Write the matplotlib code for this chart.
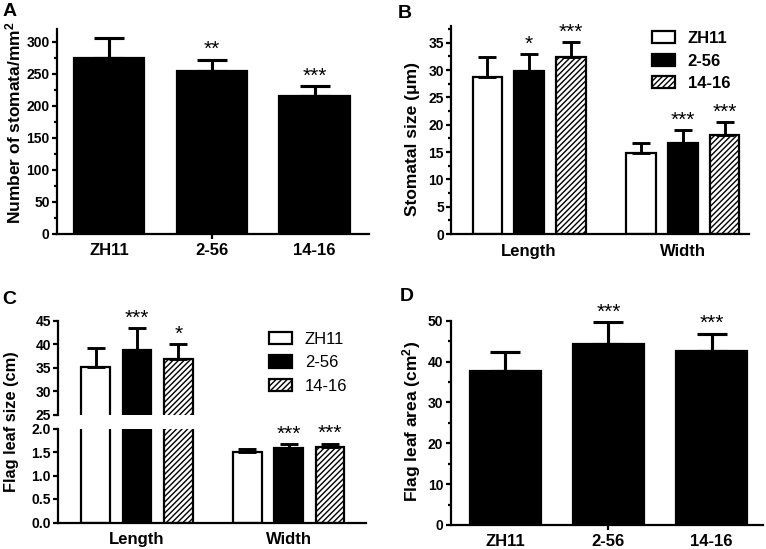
import numpy as np
import matplotlib
matplotlib.use('Agg')
import matplotlib.pyplot as plt
from matplotlib.patches import Patch
from matplotlib.ticker import MultipleLocator, FormatStrFormatter

# ==========================================
# DATA
# ==========================================
lines = ['ZH11', '2-56', '14-16']
groups = ['Length', 'Width']

# A - stomatal density
stomata_mean = [274, 254, 214.5]
stomata_sd = [31, 18, 15.5]
stomata_sig = ['', '**', '***']

# B - stomatal size (um)
size_len_mean = [28.7, 29.9, 32.3]
size_len_sd = [3.6, 3.0, 2.8]
size_len_sig = ['', '*', '***']
size_wid_mean = [14.8, 16.6, 18.1]
size_wid_sd = [1.8, 2.4, 2.3]
size_wid_sig = ['', '***', '***']

# C - flag leaf size (cm)
leaf_len_mean = [35.2, 38.85, 36.8]
leaf_len_sd = [4.0, 4.55, 3.2]
leaf_len_sig = ['', '***', '*']
leaf_wid_mean = [1.49, 1.59, 1.61]
leaf_wid_sd = [0.07, 0.07, 0.07]
leaf_wid_sig = ['', '***', '***']

# D - flag leaf area (cm2)
area_mean = [37.7, 44.3, 42.65]
area_sd = [4.7, 5.3, 4.15]
area_sig = ['', '***', '***']

# ==========================================
# STYLE
# ==========================================
plt.rcParams['font.family'] = ['Liberation Sans', 'DejaVu Sans']
plt.rcParams['mathtext.fontset'] = 'custom'
plt.rcParams['mathtext.rm'] = 'Liberation Sans'
plt.rcParams['mathtext.bf'] = 'Liberation Sans:bold'
plt.rcParams['mathtext.default'] = 'bf'
plt.rcParams['hatch.linewidth'] = 1.0

W, H = 766, 549
LW = 1.6
fig = plt.figure(figsize=(W / 100, H / 100), dpi=100)


def px_axes(left, top, right, bottom):
    return fig.add_axes([left / W, 1 - bottom / H, (right - left) / W, (bottom - top) / H])


def ylabel_px(x, y, text, size=12.5):
    fig.text(x / W, 1 - y / H, text, rotation=90, ha='center', va='center',
             fontsize=size, fontweight='bold')


def style_axes(ax, ytick_size=10):
    for s in ['top', 'right']:
        ax.spines[s].set_visible(False)
    for s in ['left', 'bottom']:
        ax.spines[s].set_linewidth(LW)
    ax.tick_params(axis='y', which='major', length=3.8, width=LW, labelsize=ytick_size, pad=1.5)
    ax.tick_params(axis='y', which='minor', length=2.2, width=LW)
    ax.tick_params(axis='x', which='major', length=3.8, width=LW, labelsize=12, pad=3)
    for lab in ax.get_yticklabels():
        lab.set_fontweight('bold')


def stars(ax, x, tops, sig, dy=0.5):
    for xi, t, s in zip(x, tops, sig):
        if s:
            ax.annotate(s, (xi, t), xytext=(0, dy), textcoords='offset points',
                        ha='center', va='bottom', fontsize=15)


STYLES = [dict(facecolor='white', edgecolor='black', hatch=None),
          dict(facecolor='black', edgecolor='black', hatch=None),
          dict(facecolor='white', edgecolor='black', hatch='//////')]


def single_panel(ax, mean, sd, sig, capsize):
    x = np.arange(len(lines))
    ax.bar(x, mean, width=0.685, color='black', edgecolor='black', linewidth=LW, zorder=2)
    ax.errorbar(x, mean, yerr=[np.zeros(len(sd)), sd], fmt='none', ecolor='black',
                elinewidth=LW * 1.4, capsize=capsize, capthick=LW * 1.4, zorder=3)
    tops = np.array(mean) + np.array(sd)
    stars(ax, x, tops, sig)
    ax.set_xticks(x)
    ax.set_xticklabels(lines, fontweight='bold')
    ticks = ax.xaxis.get_major_ticks()
    ticks[0].tick1line.set_visible(False)
    ticks[2].tick1line.set_visible(False)


def grouped_panel(ax, means, sds, sigs):
    off = 0.272
    w = 0.19
    for i in range(3):
        xs = np.arange(len(groups)) + (i - 1) * off
        vals = [m[i] for m in means]
        errs = [s[i] for s in sds]
        ax.bar(xs, vals, width=w, linewidth=LW, zorder=2, **STYLES[i])
        ax.errorbar(xs, vals, yerr=[np.zeros(len(errs)), errs], fmt='none', ecolor='black',
                    elinewidth=LW * 1.3, capsize=6.5, capthick=LW * 1.3, zorder=3)
        tops = np.array(vals) + np.array(errs)
        stars(ax, xs, tops, [s[i] for s in sigs])


# ==========================================
# A
# ==========================================
axA = px_axes(57, 28.9, 369, 233.5)
single_panel(axA, stomata_mean, stomata_sd, stomata_sig, capsize=10.5)
axA.set_xlim(-0.506, 2.53)
axA.set_ylim(0, 320)
axA.yaxis.set_major_locator(MultipleLocator(50))
axA.yaxis.set_minor_locator(MultipleLocator(25))
style_axes(axA)
ylabel_px(13, 123, 'Number of stomata/mm$^{2}$', size=12.5)

# ==========================================
# B
# ==========================================
axB = px_axes(451.3, 26.3, 748.7, 234)
grouped_panel(axB, [size_len_mean, size_wid_mean], [size_len_sd, size_wid_sd],
              [size_len_sig, size_wid_sig])
axB.set_xlim(-0.505, 1.427)
axB.set_ylim(0, 38)
axB.yaxis.set_major_locator(MultipleLocator(5))
axB.yaxis.set_minor_locator(MultipleLocator(2.5))
axB.set_xticks([0, 1])
axB.set_xticklabels(groups, fontweight='bold')
style_axes(axB)
axB.tick_params(axis='x', length=0, pad=7)
ylabel_px(412, 139, 'Stomatal size (\u03bcm)')

handles = [Patch(linewidth=LW, **STYLES[i]) for i in range(3)]
axB.legend(handles, lines, loc='upper left', bbox_to_anchor=(652 / W, 1 - 31 / H),
           bbox_transform=fig.transFigure, frameon=False, borderpad=0, borderaxespad=0,
           handlelength=1.4, handleheight=0.75, handletextpad=0.75, labelspacing=0.45,
           prop={'weight': 'bold', 'size': 12})

# ==========================================
# C (broken axis)
# ==========================================
axCu = px_axes(58.3, 320.7, 365.7, 415)
axCl = px_axes(58.3, 428.5, 365.7, 522.5)
for ax in (axCu, axCl):
    grouped_panel(ax, [leaf_len_mean, leaf_wid_mean], [leaf_len_sd, leaf_wid_sd],
                  [leaf_len_sig, leaf_wid_sig])
    ax.set_xlim(-0.519, 1.508)
    style_axes(ax)
axCu.set_ylim(25, 45)
axCu.yaxis.set_major_locator(MultipleLocator(5))
axCu.spines['bottom'].set_visible(False)
axCu.set_xticks([])
for t in axCu.texts:
    if t.xy[1] < 25:
        t.set_visible(False)
axCl.set_ylim(0, 2.0)
axCl.yaxis.set_major_locator(MultipleLocator(0.5))
axCl.yaxis.set_major_formatter(FormatStrFormatter('%.1f'))
for t in axCl.texts:
    if t.xy[1] > 2.0:
        t.set_visible(False)
axCl.set_xticks([0, 1])
axCl.set_xticklabels(groups, fontweight='bold')
axCl.tick_params(axis='x', length=0, pad=7)
for lab in axCl.get_yticklabels() + axCu.get_yticklabels():
    lab.set_fontweight('bold')
ylabel_px(12, 422, 'Flag leaf size (cm)', size=11.8)

axCu.legend(handles, lines, loc='upper left', bbox_to_anchor=(269 / W, 1 - 332 / H),
            bbox_transform=fig.transFigure, frameon=False, borderpad=0, borderaxespad=0,
            handlelength=1.4, handleheight=0.75, handletextpad=0.75, labelspacing=0.5,
            prop={'size': 12})

# ==========================================
# D
# ==========================================
axD = px_axes(450.7, 320.7, 763, 525)
single_panel(axD, area_mean, area_sd, area_sig, capsize=11)
axD.set_xlim(-0.528, 2.497)
axD.set_ylim(0, 50)
axD.yaxis.set_major_locator(MultipleLocator(10))
axD.yaxis.set_minor_locator(MultipleLocator(5))
style_axes(axD)
ylabel_px(412, 421, 'Flag leaf area (cm$^{2}$)')

# panel letters
for lbl, x, y in [('A', 3, 3), ('B', 398, 5), ('C', 2, 291), ('D', 400, 288)]:
    fig.text(x / W, 1 - y / H, lbl, fontsize=14, fontweight='bold', ha='left', va='top')

fig.savefig('out.png', dpi=100)
